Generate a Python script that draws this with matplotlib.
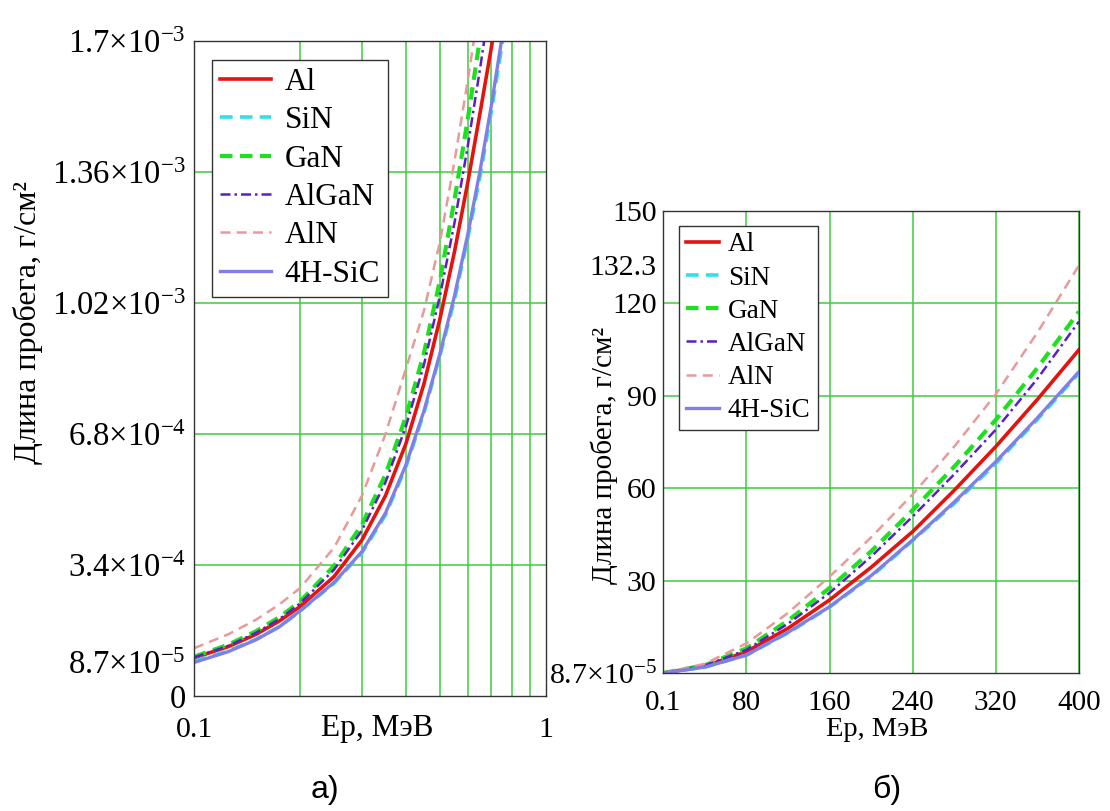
import matplotlib.pyplot as plt

plt.rcParams['font.family'] = ['Liberation Serif', 'DejaVu Serif']
plt.rcParams['mathtext.fontset'] = 'custom'
plt.rcParams['mathtext.rm'] = 'Liberation Serif'
plt.rcParams['mathtext.it'] = 'Liberation Serif:italic'
plt.rcParams['mathtext.bf'] = 'Liberation Serif:bold'

# --- данные: длина пробега протонов, г/см^2 ---
materials = ['Al', 'SiN', 'GaN', 'AlGaN', 'AlN', '4H-SiC']

# а) низкие энергии, МэВ
e_low = [0.1, 0.125, 0.15, 0.175, 0.2, 0.25, 0.3, 0.35, 0.4, 0.45, 0.5,
         0.55, 0.6, 0.65, 0.7, 0.75, 0.8]
al_low = [9.9e-5, 1.28e-4, 1.60e-4, 1.95e-4, 2.32e-4, 3.10e-4, 4.05e-4, 5.2e-4,
          6.55e-4, 8.1e-4, 9.8e-4, 1.155e-3, 1.335e-3, 1.515e-3, 1.685e-3,
          1.87e-3, 2.05e-3]
sin_low = [9.0e-5, 1.17e-4, 1.47e-4, 1.8e-4, 2.2e-4, 2.93e-4, 3.72e-4, 4.7e-4,
           5.95e-4, 7.35e-4, 8.85e-4, 1.03e-3, 1.19e-3, 1.35e-3, 1.52e-3,
           1.69e-3, 1.87e-3]
gan_low = [1.02e-4, 1.33e-4, 1.68e-4, 2.05e-4, 2.45e-4, 3.38e-4, 4.45e-4, 5.75e-4,
           7.25e-4, 8.9e-4, 1.08e-3, 1.29e-3, 1.5e-3, 1.71e-3, 1.92e-3,
           2.12e-3, 2.32e-3]
algan_low = [1.0e-4, 1.3e-4, 1.64e-4, 2.0e-4, 2.4e-4, 3.28e-4, 4.3e-4, 5.55e-4,
             7.0e-4, 8.6e-4, 1.04e-3, 1.23e-3, 1.43e-3, 1.63e-3, 1.83e-3,
             2.03e-3, 2.23e-3]
aln_low = [1.24e-4, 1.6e-4, 1.98e-4, 2.38e-4, 2.8e-4, 3.85e-4, 5.2e-4, 6.8e-4,
           8.5e-4, 1.0e-3, 1.18e-3, 1.39e-3, 1.6e-3, 1.81e-3, 2.03e-3,
           2.25e-3, 2.47e-3]
sic_low = [8.7e-5, 1.15e-4, 1.46e-4, 1.8e-4, 2.21e-4, 2.95e-4, 3.75e-4, 4.75e-4,
           6.0e-4, 7.4e-4, 8.9e-4, 1.04e-3, 1.2e-3, 1.365e-3, 1.535e-3,
           1.71e-3, 1.89e-3]

# б) высокие энергии, МэВ
e_high = [0.1, 40, 80, 120, 160, 200, 240, 280, 320, 360, 400]
al_high = [8.7e-5, 2.2, 6.9, 14.5, 23.7, 34.3, 45.9, 59.3, 73.5, 88.8, 104.9]
sin_high = [8.7e-5, 1.9, 5.8, 13.0, 21.4, 31.3, 43.0, 55.0, 68.0, 82.3, 97.3]
gan_high = [8.7e-5, 2.5, 8.0, 17.0, 27.6, 39.5, 52.9, 67.0, 82.2, 99.0, 117.3]
algan_high = [8.7e-5, 2.4, 7.5, 16.0, 26.0, 37.8, 50.8, 64.5, 79.0, 95.5, 114.1]
aln_high = [8.7e-5, 3.0, 9.6, 19.5, 31.3, 44.0, 58.0, 73.5, 90.5, 110.5, 132.3]
sic_high = [8.7e-5, 1.9, 5.8, 13.2, 21.5, 31.6, 43.2, 55.5, 68.6, 82.8, 97.8]

ytick_low = [0, 8.7e-5, 3.4e-4, 6.8e-4, 1.02e-3, 1.36e-3, 1.7e-3]
ytick_low_labels = ['0', r'$8.7{\times}10^{-5}$', r'$3.4{\times}10^{-4}$',
                    r'$6.8{\times}10^{-4}$', r'$1.02{\times}10^{-3}$',
                    r'$1.36{\times}10^{-3}$', r'$1.7{\times}10^{-3}$']
ygrid_low = [3.4e-4, 6.8e-4, 1.02e-3, 1.36e-3]
xgrid_low = [0.2, 0.3, 0.4, 0.5, 0.6, 0.7, 0.8, 0.9]

ytick_high = [8.7e-5, 30, 60, 90, 120, 132.3, 150]
ytick_high_labels = [r'$8.7{\times}10^{-5}$', '30', '60', '90', '120', '132.3', '150']
ygrid_high = [30, 60, 90, 120]
xtick_high = [0.1, 80, 160, 240, 320, 400]

styles = [
    dict(color='#e3140f', lw=2.6, ls='-'),
    dict(color='#2fe0ea', lw=2.6, dashes=(3.5, 2.0)),
    dict(color='#1ee01e', lw=3.0, dashes=(3.0, 1.8)),
    dict(color='#5b1fc9', lw=1.8, dashes=(4, 1.6, 1, 1.6)),
    dict(color='#e8999a', lw=1.8, dashes=(4, 2.5)),
    dict(color='#7f7fe6', lw=2.4, ls='-'),
]
grid_color = '#3ccc3c'

fig = plt.figure(figsize=(11.1, 8.11), dpi=100)

# ----- левый график -----
ax1 = fig.add_axes([0.1748, 0.1418, 0.3171, 0.8076])
for name, y, st in zip(materials, [al_low, sin_low, gan_low, algan_low, aln_low, sic_low], styles):
    ax1.plot(e_low, y, label=name, **st)
ax1.set_xscale('log')
ax1.set_xlim(0.1, 1)
ax1.set_ylim(0, 1.7e-3)
ax1.set_xticks([0.1, 1], ['0.1', '1'])
ax1.set_xticks(xgrid_low, minor=True)
ax1.xaxis.set_minor_formatter(plt.NullFormatter())
ax1.set_yticks(ytick_low, ytick_low_labels)
ax1.yaxis.remove_overlapping_locs = False
ax1.set_yticks(ygrid_low, minor=True)
ax1.grid(which='minor', color=grid_color, lw=1.1)
ax1.tick_params(which='both', length=0)
ax1.tick_params(axis='x', pad=15, labelsize=21.5)
ax1.tick_params(axis='y', pad=6, labelsize=23.5)
ax1.text(0.52, -0.049, 'Ep, МэВ', transform=ax1.transAxes, fontsize=22.5,
         ha='center', va='center')
leg1 = ax1.legend(loc='upper left', bbox_to_anchor=(0.051, 0.971), borderaxespad=0,
                  fontsize=22.5, handlelength=1.65, handletextpad=0.42,
                  labelspacing=0.3, borderpad=0.25, fancybox=False, framealpha=1)
leg1.get_frame().set_edgecolor('#333333')
leg1.get_frame().set_linewidth(1.0)
fig.text(28 / 1110, 1 - 323 / 811, 'Длина пробега, г/см²', rotation=90,
         fontsize=23, ha='center', va='center')

# ----- правый график -----
ax2 = fig.add_axes([0.5977, 0.1702, 0.3743, 0.5697])
for name, y, st in zip(materials, [al_high, sin_high, gan_high, algan_high, aln_high, sic_high], styles):
    ax2.plot(e_high, y, label=name, **st)
ax2.set_xlim(0.1, 400)
ax2.set_ylim(8.7e-5, 150)
ax2.set_xticks(xtick_high, ['0.1', '80', '160', '240', '320', '400'])
ax2.set_yticks(ytick_high, ytick_high_labels)
ax2.yaxis.remove_overlapping_locs = False
ax2.set_yticks(ygrid_high, minor=True)
ax2.grid(axis='x', which='major', color=grid_color, lw=1.1)
ax2.grid(axis='y', which='minor', color=grid_color, lw=1.1)
ax2.tick_params(which='both', length=0)
ax2.tick_params(axis='x', pad=12, labelsize=21)
ax2.tick_params(axis='y', pad=5, labelsize=21.5)
ax2.text(0.515, -0.123, 'Ep, МэВ', transform=ax2.transAxes, fontsize=20.5,
         ha='center', va='center')
leg2 = ax2.legend(loc='upper left', bbox_to_anchor=(0.038, 0.968), borderaxespad=0,
                  fontsize=19.5, handlelength=1.2, handletextpad=0.35,
                  labelspacing=0.3, borderpad=0.25, fancybox=False, framealpha=1)
leg2.get_frame().set_edgecolor('#333333')
leg2.get_frame().set_linewidth(1.0)
fig.text(604 / 1110, 1 - 455 / 811, 'Длина пробега, г/см²', rotation=90,
         fontsize=21, ha='center', va='center')

for ax in (ax1, ax2):
    for sp in ax.spines.values():
        sp.set_color('#333333')
        sp.set_linewidth(1.0)

fig.text(325 / 1110, 1 - 790 / 811, 'а)', fontsize=23, ha='center', va='center',
         family=['Liberation Sans Narrow', 'Liberation Sans', 'DejaVu Sans'])
fig.text(887 / 1110, 1 - 790 / 811, 'б)', fontsize=23, ha='center', va='center',
         family=['Liberation Sans Narrow', 'Liberation Sans', 'DejaVu Sans'])

fig.savefig('out.png', dpi=100)
